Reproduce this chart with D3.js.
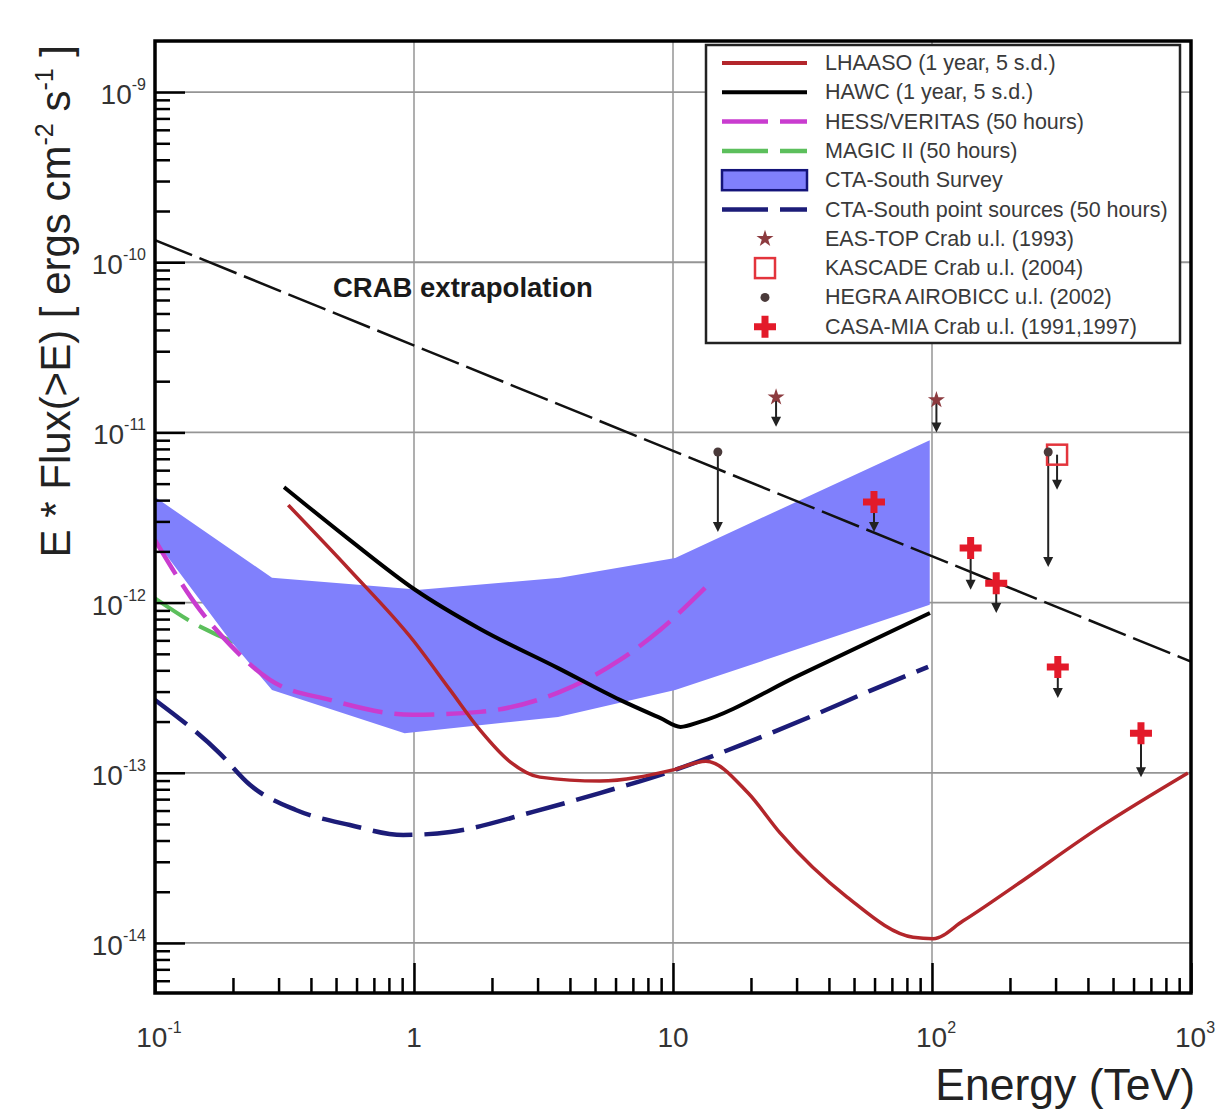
<!DOCTYPE html>
<html>
<head>
<meta charset="utf-8">
<script src="https://cdn.jsdelivr.net/npm/d3@7"></script>
<style>
  html, body { margin: 0; padding: 0; background: #fff; }
  svg { display: block; font-family: "Liberation Sans", Arial, Helvetica, sans-serif; }
</style>
</head>
<body>
<svg id="chart" width="1216" height="1113"></svg>
<script>
// ---- Sensitivity curves: energy in TeV, E*F(>E) in erg cm^-2 s^-1 ----
const lhaasoE = [0.327, 0.566, 0.99, 1.38, 1.80, 2.35, 3.06, 5.22, 10.0, 13.4, 19.5, 25.9, 47.0, 84.5, 101, 132, 206, 446, 973];
const lhaasoF = [3.74e-12, 1.55e-12, 6.03e-13, 3.06e-13, 1.78e-13, 1.16e-13, 9.43e-14, 8.94e-14, 1.04e-13, 1.17e-13, 7.60e-14, 4.43e-14, 1.86e-14, 1.08e-14, 1.06e-14, 1.35e-14, 2.13e-14, 4.81e-14, 9.98e-14];

const hawcE = [0.315, 0.566, 1.01, 1.80, 3.60, 6.24, 8.91, 10.7, 12.7, 30.9, 98.2];
const hawcF = [4.77e-12, 2.33e-12, 1.19e-12, 7.0e-13, 4.12e-13, 2.68e-13, 2.10e-13, 1.86e-13, 1.99e-13, 3.76e-13, 8.69e-13];

const hessE = [0.1, 0.149, 0.195, 0.278, 0.474, 0.99, 1.80, 3.66, 6.24, 8.91, 13.3];
const hessF = [2.33e-12, 9.06e-13, 5.64e-13, 3.51e-13, 2.68e-13, 2.19e-13, 2.28e-13, 2.99e-13, 4.60e-13, 6.90e-13, 1.22e-12];

const magicE = [0.1, 0.15, 0.22, 0.40, 0.99, 2.15, 4.79, 10.6];
const magicF = [1.06e-12, 7.2e-13, 5.6e-13, 4.7e-13, 4.5e-13, 5.0e-13, 7.4e-13, 1.04e-12];

const ctaPointE = [0.1, 0.177, 0.233, 0.350, 0.566, 0.908, 1.38, 2.88, 5.22, 9.82, 18.8, 33.8, 57.6, 96.6];
const ctaPointF = [2.68e-13, 1.31e-13, 8.47e-14, 6.04e-14, 4.93e-14, 4.31e-14, 4.49e-14, 5.89e-14, 7.60e-14, 1.02e-13, 1.48e-13, 2.13e-13, 3.03e-13, 4.19e-13];

// CTA-South survey band: upper and lower edges
const surveyUpperE = [0.1, 0.283, 1.05, 3.66, 10.2, 98];
const surveyUpperF = [4.17e-12, 1.40e-12, 1.19e-12, 1.40e-12, 1.83e-12, 9.0e-12];
const surveyLowerE = [0.1, 0.195, 0.283, 0.92, 3.6, 10.2, 98];
const surveyLowerF = [2.33e-12, 6.0e-13, 3.06e-13, 1.71e-13, 2.13e-13, 3.06e-13, 9.7e-13];

// Crab power-law extrapolation (end points)
const crabE = [0.1, 1000];
const crabF = [1.35e-10, 4.5e-13];

// ---- Upper limits: energy, flux at marker, flux at arrow tip ----
const easTopE = [25.0, 104];
const easTopF = [1.61e-11, 1.55e-11];
const easTopTip = [1.08e-11, 1.0e-11];

const kascadeE = [304];
const kascadeF = [7.4e-12];
const kascadeTip = [4.6e-12];

const hegraE = [14.9, 281];
const hegraF = [7.67e-12, 7.67e-12];
const hegraTip = [2.60e-12, 1.62e-12];

const casaE = [59.7, 141, 177, 306, 641];
const casaF = [3.9e-12, 2.09e-12, 1.30e-12, 4.19e-13, 1.71e-13];
const casaTip = [2.6e-12, 1.19e-12, 8.7e-13, 2.75e-13, 9.4e-14];

// ---- Axis ticks ----
const xTickValues = [0.1, 1, 10, 100, 1000];
const xTickBase = ["10", "1", "10", "10", "10"];
const xTickExp = ["-1", "", "", "2", "3"];
const yTickValues = [1e-9, 1e-10, 1e-11, 1e-12, 1e-13, 1e-14];
const yTickExp = ["-9", "-10", "-11", "-12", "-13", "-14"];

const legendLabels = [
  "LHAASO (1 year, 5 s.d.)",
  "HAWC (1 year, 5 s.d.)",
  "HESS/VERITAS (50 hours)",
  "MAGIC II (50 hours)",
  "CTA-South Survey",
  "CTA-South point sources (50 hours)",
  "EAS-TOP Crab u.l. (1993)",
  "KASCADE Crab u.l. (2004)",
  "HEGRA AIROBICC u.l. (2002)",
  "CASA-MIA Crab u.l. (1991,1997)"
];

// ---- Layout ----
const frame = { left: 155, right: 1191, top: 41, bottom: 993 };
const svg = d3.select("#chart");

const x = d3.scaleLog().domain([0.1, 1000]).range([frame.left, frame.right]);
const y = d3.scaleLog()
  .domain([Math.pow(10, -14.294), Math.pow(10, -8.70)])
  .range([frame.bottom, frame.top]);

const colors = {
  lhaaso: "#b3262b",
  hawc: "#000000",
  hess: "#c93ccf",
  magic: "#5cbf5c",
  survey: "rgb(128,128,252)",
  surveyEdge: "#14147a",
  ctaPoint: "#1c1c78",
  casa: "#e31a2a",
  kascade: "#e3343c",
  easTop: "#8c3b3f",
  hegra: "#4a3a3a",
  grid: "#959595"
};

const zip = (a, b) => a.map((v, i) => [v, b[i]]);

const gPlot = svg.append("g");
gPlot.append("clipPath").attr("id", "plotClip")
  .append("rect")
  .attr("x", frame.left).attr("y", frame.top)
  .attr("width", frame.right - frame.left).attr("height", frame.bottom - frame.top);

// Grid lines at every decade
const grid = gPlot.append("g");
grid.selectAll("line.h").data(yTickValues).join("line")
  .attr("x1", frame.left).attr("x2", frame.right)
  .attr("y1", d => y(d)).attr("y2", d => y(d))
  .attr("stroke", colors.grid).attr("stroke-width", 1.8);
grid.selectAll("line.v").data(xTickValues.slice(1, -1)).join("line")
  .attr("y1", frame.top).attr("y2", frame.bottom)
  .attr("x1", d => x(d)).attr("x2", d => x(d))
  .attr("stroke", colors.grid).attr("stroke-width", 1.5);

const data = gPlot.append("g").attr("clip-path", "url(#plotClip)");

const line = d3.line().x(d => x(d[0])).y(d => y(d[1])).curve(d3.curveMonotoneX);
const lineLin = d3.line().x(d => x(d[0])).y(d => y(d[1]));

// MAGIC II sits beneath the survey band
data.append("path").datum(zip(magicE, magicF))
  .attr("d", line).attr("fill", "none")
  .attr("stroke", colors.magic).attr("stroke-width", 4)
  .attr("stroke-dasharray", "40,12");

// CTA-South survey band
const bandPts = zip(surveyUpperE, surveyUpperF)
  .concat(zip(surveyLowerE, surveyLowerF).reverse());
data.append("path").datum(bandPts)
  .attr("d", d3.line().x(d => x(d[0])).y(d => y(d[1])).curve(d3.curveLinearClosed))
  .attr("fill", colors.survey).attr("stroke", "none");

// HESS/VERITAS
data.append("path").datum(zip(hessE, hessF))
  .attr("d", line).attr("fill", "none")
  .attr("stroke", colors.hess).attr("stroke-width", 4.5)
  .attr("stroke-dasharray", "40,12");

// CTA-South point sources
data.append("path").datum(zip(ctaPointE, ctaPointF))
  .attr("d", line).attr("fill", "none")
  .attr("stroke", colors.ctaPoint).attr("stroke-width", 4.5)
  .attr("stroke-dasharray", "40,12");

// HAWC
data.append("path").datum(zip(hawcE, hawcF))
  .attr("d", line).attr("fill", "none")
  .attr("stroke", colors.hawc).attr("stroke-width", 4);

// LHAASO
data.append("path").datum(zip(lhaasoE, lhaasoF))
  .attr("d", line).attr("fill", "none")
  .attr("stroke", colors.lhaaso).attr("stroke-width", 3.5);

// Crab extrapolation
data.append("path").datum(zip(crabE, crabF))
  .attr("d", lineLin).attr("fill", "none")
  .attr("stroke", "#111").attr("stroke-width", 2.5)
  .attr("stroke-dasharray", "40,8");

svg.append("text")
  .attr("x", 333).attr("y", 297)
  .attr("font-size", 27.5).attr("font-weight", "bold").attr("fill", "#1a1a1a")
  .text("CRAB extrapolation");

// ---- Upper limits with downward arrows ----
const limits = data.append("g");
function drawArrows(E, F, tip) {
  E.forEach((e, i) => {
    const px = x(e), y0 = y(F[i]), y1 = y(tip[i]);
    limits.append("line")
      .attr("x1", px).attr("x2", px).attr("y1", y0).attr("y2", y1 - 8)
      .attr("stroke", "#222").attr("stroke-width", 2);
    limits.append("path")
      .attr("d", `M${px - 5},${y1 - 10} L${px + 5},${y1 - 10} L${px},${y1} Z`)
      .attr("fill", "#222");
  });
}
drawArrows(easTopE, easTopF, easTopTip);
drawArrows(kascadeE, kascadeF, kascadeTip);
drawArrows(hegraE, hegraF, hegraTip);
drawArrows(casaE, casaF, casaTip);

function crossPath(cx, cy, s, t) {
  return `M${cx - t},${cy - s} H${cx + t} V${cy - t} H${cx + s} V${cy + t} H${cx + t} V${cy + s} H${cx - t} V${cy + t} H${cx - s} V${cy - t} H${cx - t} Z`;
}
const markers = {
  easTop: (g, cx, cy) => g.append("path")
    .attr("d", d3.symbol().type(d3.symbolStar).size(90)())
    .attr("transform", `translate(${cx},${cy})`).attr("fill", colors.easTop),
  kascade: (g, cx, cy) => g.append("rect")
    .attr("x", cx - 10).attr("y", cy - 10).attr("width", 20).attr("height", 20)
    .attr("fill", "none").attr("stroke", colors.kascade).attr("stroke-width", 2.5),
  hegra: (g, cx, cy) => g.append("circle")
    .attr("cx", cx).attr("cy", cy).attr("r", 4.5).attr("fill", colors.hegra),
  casa: (g, cx, cy) => g.append("path")
    .attr("d", crossPath(cx, cy, 11, 3.5)).attr("fill", colors.casa)
};
easTopE.forEach((e, i) => markers.easTop(limits, x(e), y(easTopF[i])));
kascadeE.forEach((e, i) => markers.kascade(limits, x(e), y(kascadeF[i])));
hegraE.forEach((e, i) => markers.hegra(limits, x(e), y(hegraF[i])));
casaE.forEach((e, i) => markers.casa(limits, x(e), y(casaF[i])));

// ---- Axes: ticks point inward, as in the frame style ----
const yMinor = [];
for (let p = -15; p <= -9; p++) for (let k = 2; k <= 9; k++) {
  const v = k * Math.pow(10, p);
  if (v > y.domain()[0] && v < y.domain()[1]) yMinor.push(v);
}
const xMinor = [];
for (let p = -1; p <= 2; p++) for (let k = 2; k <= 9; k++) xMinor.push(k * Math.pow(10, p));

const axY = svg.append("g").attr("transform", `translate(${frame.left},0)`);
axY.call(d3.axisLeft(y).tickValues(yTickValues).tickSize(-30).tickFormat(""));
axY.append("g").call(d3.axisLeft(y).tickValues(yMinor).tickSize(-15).tickFormat(""));
axY.selectAll("path.domain").remove();
axY.selectAll("line").attr("stroke", "#000").attr("stroke-width", 2.5);

const axX = svg.append("g").attr("transform", `translate(0,${frame.bottom})`);
axX.call(d3.axisBottom(x).tickValues(xTickValues).tickSize(-30).tickFormat(""));
axX.append("g").call(d3.axisBottom(x).tickValues(xMinor).tickSize(-15).tickFormat(""));
axX.selectAll("path.domain").remove();
axX.selectAll("line").attr("stroke", "#000").attr("stroke-width", 2.5);

// Frame
svg.append("rect")
  .attr("x", frame.left).attr("y", frame.top)
  .attr("width", frame.right - frame.left).attr("height", frame.bottom - frame.top)
  .attr("fill", "none").attr("stroke", "#000").attr("stroke-width", 3.5);

// Tick labels
const tickFont = 28, supFont = 16;
yTickValues.forEach((v, i) => {
  const t = svg.append("text")
    .attr("x", 146).attr("y", y(v) + 12)
    .attr("text-anchor", "end").attr("font-size", tickFont).attr("fill", "#333");
  t.append("tspan").text("10");
  t.append("tspan").attr("dy", -14).attr("font-size", supFont).text(yTickExp[i]);
});
xTickValues.forEach((v, i) => {
  const t = svg.append("text")
    .attr("x", x(v) + (xTickExp[i] ? 4 : 0)).attr("y", 1047)
    .attr("text-anchor", "middle").attr("font-size", tickFont).attr("fill", "#333");
  t.append("tspan").text(xTickBase[i]);
  if (xTickExp[i]) t.append("tspan").attr("dy", -14).attr("font-size", supFont).text(xTickExp[i]);
});

// Axis titles
svg.append("text")
  .attr("x", 1195).attr("y", 1100)
  .attr("text-anchor", "end").attr("font-size", 44.5).attr("fill", "#222")
  .text("Energy (TeV)");

const yt = svg.append("text")
  .attr("transform", "rotate(-90)")
  .attr("x", -45).attr("y", 70)
  .attr("text-anchor", "end").attr("font-size", 42).attr("fill", "#222");
yt.append("tspan").text("E * Flux(>E) [ ergs cm");
yt.append("tspan").attr("dy", -17).attr("font-size", 25).text("-2");
yt.append("tspan").attr("dy", 17).text(" s");
yt.append("tspan").attr("dy", -17).attr("font-size", 25).text("-1");
yt.append("tspan").attr("dy", 17).text(" ]");

// ---- Legend ----
const leg = svg.append("g");
const legBox = { x: 706, y: 45, w: 474, h: 298 };
leg.append("rect")
  .attr("x", legBox.x).attr("y", legBox.y).attr("width", legBox.w).attr("height", legBox.h)
  .attr("fill", "#fff").attr("stroke", "#222").attr("stroke-width", 2.5);

const rowY = i => 63 + i * 29.3;
const sx0 = 722, sx1 = 807, smid = 765;
const legendSamples = [
  g => g.append("line").attr("stroke", colors.lhaaso).attr("stroke-width", 4),
  g => g.append("line").attr("stroke", colors.hawc).attr("stroke-width", 4),
  g => g.append("line").attr("stroke", colors.hess).attr("stroke-width", 4.5).attr("stroke-dasharray", "46,12"),
  g => g.append("line").attr("stroke", colors.magic).attr("stroke-width", 4.5).attr("stroke-dasharray", "46,12"),
  null,
  g => g.append("line").attr("stroke", colors.ctaPoint).attr("stroke-width", 4.5).attr("stroke-dasharray", "46,12")
];
legendLabels.forEach((label, i) => {
  const cy = rowY(i);
  const g = leg.append("g");
  if (i === 4) {
    g.append("rect").attr("x", sx0).attr("y", cy - 10).attr("width", sx1 - sx0).attr("height", 20)
      .attr("fill", colors.survey).attr("stroke", colors.surveyEdge).attr("stroke-width", 2.5);
  } else if (i < 6) {
    legendSamples[i](g).attr("x1", sx0).attr("x2", sx1).attr("y1", cy).attr("y2", cy);
  } else if (i === 6) {
    markers.easTop(g, smid, cy);
  } else if (i === 7) {
    markers.kascade(g, smid, cy);
  } else if (i === 8) {
    markers.hegra(g, smid, cy);
  } else {
    markers.casa(g, smid, cy);
  }
  g.append("text").attr("x", 825).attr("y", cy + 7)
    .attr("font-size", 21.5).attr("fill", "#3a3a3a").text(label);
});
</script>
</body>
</html>
